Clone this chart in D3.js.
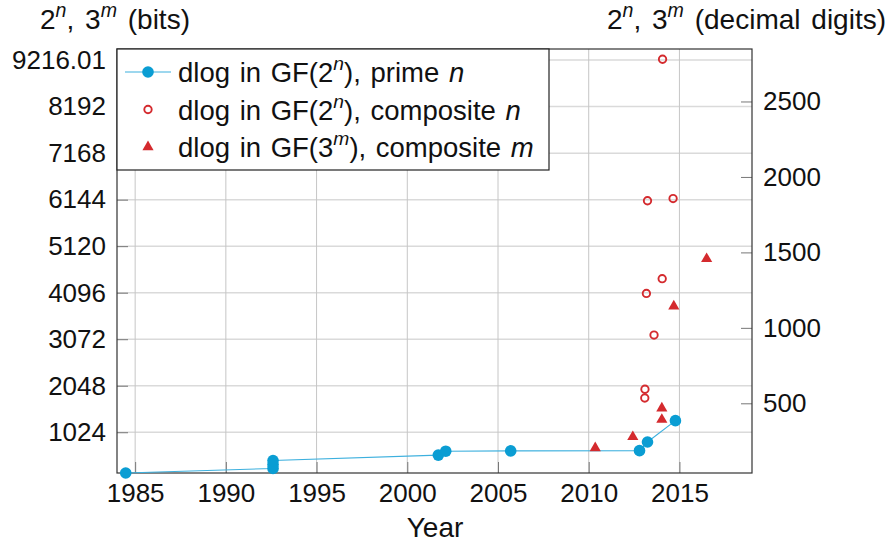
<!DOCTYPE html>
<html><head><meta charset="utf-8">
<script src="https://cdn.jsdelivr.net/npm/d3@7"></script>
<style>
body{margin:0;background:#fff}
svg{display:block}
text{font-family:"Liberation Sans",Arial,sans-serif;fill:#111}
</style>
</head><body>
<svg id="c" width="891" height="544"></svg>
<script>
// ---- data ----
const primeYears = [1984.48, 1992.6, 1992.6, 1992.6, 2001.71, 2002.12, 2005.7, 2012.8, 2013.24, 2014.78];
const primeBits  = [127, 227, 313, 401, 521, 607, 613, 619, 809, 1279];
const compNYears = [2013.09, 2013.1, 2013.18, 2013.24, 2013.6, 2014.05, 2014.07, 2014.65];
const compNBits  = [1778, 1971, 4080, 6120, 3164, 4404, 9234, 6168];
const compMYears = [2010.36, 2012.43, 2014.03, 2014.03, 2014.69, 2016.5];
const compMBits  = [676, 923, 1303, 1551, 3796, 4841];
const xTicks = [1985, 1990, 1995, 2000, 2005, 2010, 2015];
const yTicks = [1024, 2048, 3072, 4096, 5120, 6144, 7168, 8192, 9216];
const yTickLabels = ["1024", "2048", "3072", "4096", "5120", "6144", "7168", "8192", "9216.01"];
const yRightTicks = [500, 1000, 1500, 2000, 2500];

const BLUE = "#0a9dd3", LINEBLUE = "#3db0de", RED = "#d42a2e";
const FS = 26, TFS = 28, LFS = 27.5;
const svg = d3.select("#c");
const m = {l:117, r:752, t:49, b:473};
const x = d3.scaleLinear().domain([1984, 2019]).range([m.l, m.r]);
const y = d3.scaleLinear().domain([127, 9460]).range([m.b, m.t]);
const L2 = Math.log10(2);
const yR = d3.scaleLinear().domain([127*L2, 9460*L2]).range([m.b, m.t]);

// grid
svg.append("g").selectAll("line").data(yTicks).join("line")
  .attr("x1", m.l).attr("x2", m.r).attr("y1", d=>y(d)).attr("y2", d=>y(d))
  .attr("stroke", "#dadada").attr("stroke-width", 1.5);
svg.append("g").selectAll("line").data(xTicks).join("line")
  .attr("x1", d=>x(d)).attr("x2", d=>x(d)).attr("y1", m.t).attr("y2", m.b)
  .attr("stroke", "#c6c6c6").attr("stroke-width", 1);

// axes
function styleAxis(g){
  g.select(".domain").remove();
  g.selectAll(".tick line").attr("stroke", "#777").attr("stroke-width", 1);
  g.selectAll(".tick text").attr("font-size", FS).attr("fill", "#111")
   .attr("font-family", "Liberation Sans, Arial, sans-serif");
}
svg.append("g").attr("transform", `translate(0,${m.b})`)
  .call(d3.axisBottom(x).tickValues(xTicks).tickFormat(d3.format("d")).tickSizeInner(-11).tickSizeOuter(0).tickPadding(11))
  .call(styleAxis);
svg.append("g").attr("transform", `translate(${m.l},0)`)
  .call(d3.axisLeft(y).tickValues(yTicks).tickFormat((d,i)=>yTickLabels[i]).tickSizeInner(-11).tickSizeOuter(0).tickPadding(11))
  .call(styleAxis);
svg.append("g").attr("transform", `translate(${m.r},0)`)
  .call(d3.axisRight(yR).tickValues(yRightTicks).tickFormat(d3.format("d")).tickSizeInner(-11).tickSizeOuter(0).tickPadding(11))
  .call(styleAxis);

// frame
svg.append("rect").attr("x", m.l).attr("y", m.t).attr("width", m.r-m.l).attr("height", m.b-m.t)
  .attr("fill", "none").attr("stroke", "#333").attr("stroke-width", 1.2);

// data
const prime = primeYears.map((d,i)=>[d, primeBits[i]]);
svg.append("path").datum(prime)
  .attr("d", d3.line().x(d=>x(d[0])).y(d=>y(d[1])))
  .attr("fill", "none").attr("stroke", LINEBLUE).attr("stroke-width", 1.1);
svg.append("g").selectAll("circle").data(prime).join("circle")
  .attr("cx", d=>x(d[0])).attr("cy", d=>y(d[1])).attr("r", 5.8).attr("fill", BLUE);
svg.append("g").selectAll("circle").data(compNYears.map((d,i)=>[d, compNBits[i]])).join("circle")
  .attr("cx", d=>x(d[0])).attr("cy", d=>y(d[1])).attr("r", 3.7)
  .attr("fill", "none").attr("stroke", RED).attr("stroke-width", 1.9);
const tri = d3.symbol().type(d3.symbolTriangle).size(54);
svg.append("g").selectAll("path").data(compMYears.map((d,i)=>[d, compMBits[i]])).join("path")
  .attr("transform", d=>`translate(${x(d[0])},${y(d[1])})`).attr("d", tri).attr("fill", RED);

// rich text helper
function rich(sel, parts, fs){
  parts.forEach(p=>{
    const t = sel.append("tspan").text(p.t);
    if (p.it) t.attr("font-style", "italic");
    if (p.sup) t.attr("font-size", fs*0.7).attr("dy", -fs*0.42);
    if (p.down) t.attr("dy", fs*0.42);
  });
}

// legend
const lg = svg.append("g");
lg.append("rect").attr("x", m.l).attr("y", m.t).attr("width", 432).attr("height", 121)
  .attr("fill", "#fff").attr("stroke", "#222").attr("stroke-width", 1.2);
const rows = [
  {gf:"2", v:"n", kind:"prime", last:"n"},
  {gf:"2", v:"n", kind:"composite", last:"n"},
  {gf:"3", v:"m", kind:"composite", last:"m"}
];
const rowY = [82, 119.5, 157];
rows.forEach((r,i)=>{
  const cy = rowY[i]-10;
  if (i===0){
    lg.append("line").attr("x1",125).attr("x2",171).attr("y1",cy).attr("y2",cy)
      .attr("stroke", LINEBLUE).attr("stroke-width", 1.1);
    lg.append("circle").attr("cx",148).attr("cy",cy).attr("r",5.8).attr("fill",BLUE);
  } else if (i===1){
    lg.append("circle").attr("cx",148).attr("cy",cy).attr("r",3.7).attr("fill","none")
      .attr("stroke",RED).attr("stroke-width",1.9);
  } else {
    lg.append("path").attr("transform",`translate(148,${cy})`).attr("d",tri).attr("fill",RED);
  }
  const t = lg.append("text").attr("x",178).attr("y",rowY[i]).attr("font-size",LFS).attr("word-spacing", 2);
  rich(t, [{t:"dlog in GF("+r.gf}, {t:r.v, it:true, sup:true}, {t:"), "+r.kind+" ", down:true}, {t:r.last, it:true}], LFS);
});

// titles
const t1 = svg.append("text").attr("x",40).attr("y",29).attr("font-size",TFS).attr("word-spacing", 3);
rich(t1, [{t:"2"},{t:"n",it:true,sup:true},{t:", 3",down:true},{t:"m",it:true,sup:true},{t:" (bits)",down:true}], TFS);
const t2 = svg.append("text").attr("x",886).attr("y",29).attr("font-size",TFS).attr("text-anchor","end").attr("word-spacing", 3);
rich(t2, [{t:"2"},{t:"n",it:true,sup:true},{t:", 3",down:true},{t:"m",it:true,sup:true},{t:" (decimal digits)",down:true}], TFS);
svg.append("text").attr("x",435).attr("y",537).attr("font-size",TFS).attr("text-anchor","middle").text("Year");
</script>
</body></html>
